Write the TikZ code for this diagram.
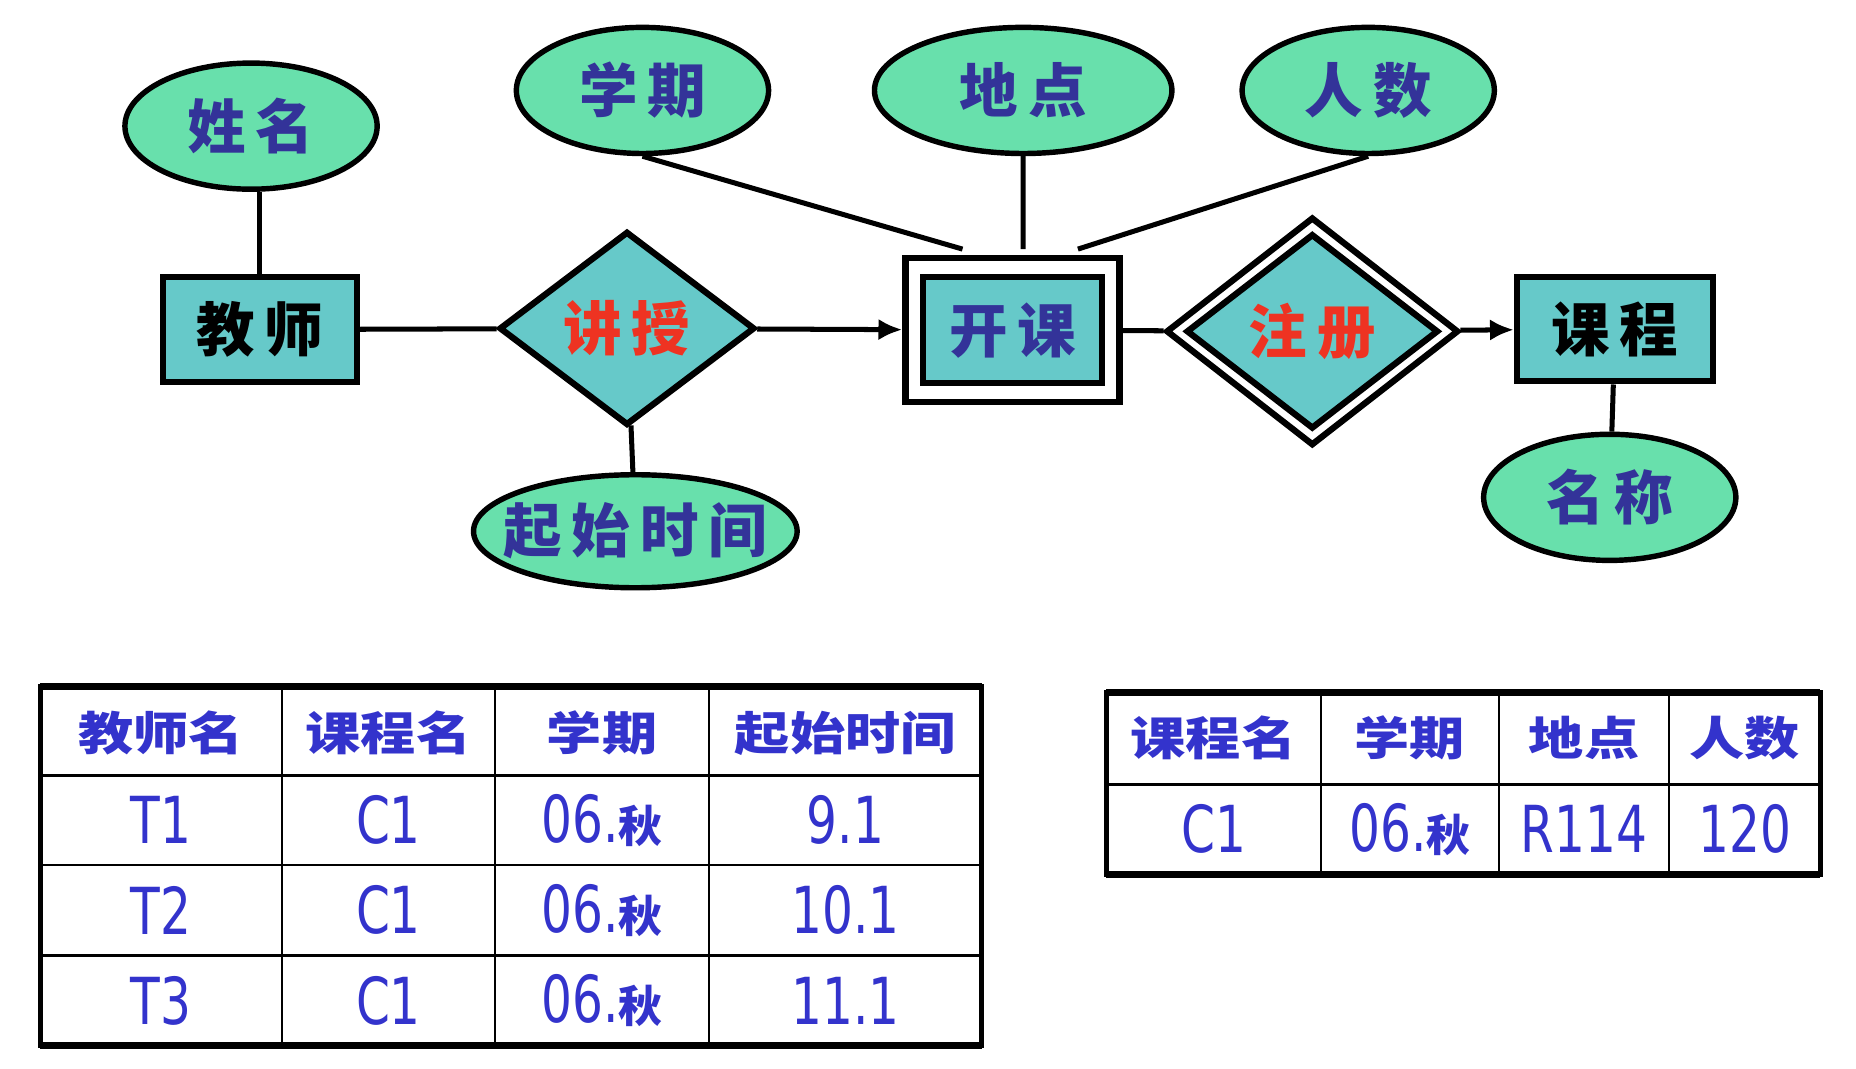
\documentclass[tikz,border=0pt]{standalone}
\usepackage{fontspec}
\newfontfamily\cjk{Noto Sans CJK SC}
\newfontfamily\cjkhead{Noto Sans CJK SC}[FakeStretch=1.2]
\newfontfamily\numfont{DejaVu Sans}[FakeStretch=0.75]
\usetikzlibrary{shapes, positioning, arrows.meta}
\definecolor{attrgreen}{HTML}{68E0AC}
\definecolor{boxteal}{HTML}{66C9C9}
\definecolor{labelblue}{HTML}{333399}
\definecolor{cellblue}{HTML}{3333CC}
\definecolor{relred}{HTML}{EE3322}
\newcommand\qiu{06.{\cjk\bfseries\fontsize{10.5}{12}\selectfont 秋}}
\tikzset{>={Latex[length=2mm,width=1.8mm]},
  attr/.style={ellipse, draw, line width=1.3pt, fill=attrgreen, text=labelblue, inner sep=0pt,
    minimum width=2.12cm, minimum height=1.06cm, font=\cjk\bfseries\fontsize{14}{16}\selectfont},
  entity/.style={rectangle, draw, line width=1.5pt, fill=boxteal, inner sep=0pt,
    minimum width=1.63cm, minimum height=0.88cm, font=\cjk\bfseries\fontsize{14}{16}\selectfont},
  relation/.style={diamond, draw, line width=1.5pt, fill=boxteal, text=relred, inner sep=0pt,
    font=\cjk\bfseries\fontsize{14}{16}\selectfont},
  headcell/.style={text=cellblue, inner sep=0pt, font=\cjkhead\bfseries\fontsize{11}{13}\selectfont},
  cell/.style={text=cellblue, inner sep=0pt, font=\numfont\fontsize{15.5}{18}\selectfont}}

\begin{document}
\begin{tikzpicture}[line width=1.2pt]
    \useasboundingbox (0,0) rectangle (15.6,-8.977);
    % entities and relationships
    \node[entity] (jiaoshi) at (2.185,-2.77) {教\,师};
    \node[relation, minimum width=2.15cm, minimum height=1.63cm] (jiangshou) at (5.27,-2.76) {讲\,授};
    \node[entity, fill=white, minimum width=1.80cm, minimum height=1.21cm] (kaikeout) at (8.51,-2.775) {};
    \node[entity, text=labelblue, minimum width=1.51cm, minimum height=0.89cm] (kaike) at (kaikeout) {开\,课};
    \node[relation, fill=white, minimum width=2.46cm, minimum height=1.92cm] (zhuceout) at (11.03,-2.785) {};
    \node[relation, minimum width=2.12cm, minimum height=1.64cm] (zhuce) at (zhuceout) {注\,册};
    \node[entity, minimum width=1.65cm] (kecheng) at (13.575,-2.765) {课\,程};
    % attributes
    \node[attr] (xingming) at (2.11,-1.06) {姓\,名};
    \node[attr] (xueqi) at (5.40,-0.76) {学\,期};
    \node[attr, minimum width=2.5cm] (didian) at (8.60,-0.76) {地\,点};
    \node[attr] (renshu) at (11.50,-0.76) {人\,数};
    \node[attr, minimum width=2.72cm, minimum height=0.95cm] (qishi) at (5.34,-4.465) {\makebox[0pt]{起\,始\,时\,间}};
    \node[attr] (mingcheng) at (13.53,-4.18) {名\,称};
    \coordinate (xqend) at ([xshift=-0.42cm, yshift=0.05cm]kaikeout.north);
    \coordinate (ddend) at ([xshift=0.09cm, yshift=0.05cm]kaikeout.north);
    \coordinate (rsend) at ([xshift=0.55cm, yshift=0.05cm]kaikeout.north);

    \draw (xingming.south -| jiaoshi.north) -- (jiaoshi.north);
    \draw (jiaoshi) -- (jiangshou);
    \draw[->] (jiangshou) -- (kaikeout);
    \draw (jiangshou) -- (qishi);
    \draw (xueqi.south) -- (xqend);
    \draw (didian.south) -- (ddend);
    \draw (renshu.south) -- (rsend);
    \draw (kaikeout) -- (zhuceout);
    \draw[->] (zhuceout) -- (kecheng);
    \draw (kecheng) -- (mingcheng);

    % table: teacher / course / term / start
    \foreach \y in {-6.52,-7.27,-8.03} \draw[line width=0.7pt] (0.34,\y) -- (8.25,\y);
    \foreach \x in {2.37,4.16,5.96} \draw[line width=0.5pt] (\x,-5.77) -- (\x,-8.79);
    \draw[line width=1.1pt] (0.34,-5.77) rectangle (8.25,-8.79);
    \draw[line width=1.6pt] (0.34,-5.77) -- (8.25,-5.77) (0.34,-8.79) -- (8.25,-8.79);
    \foreach \x/\txt [count=\i] in {1.355/教师名, 3.265/课程名, 5.06/学期, 7.105/起始时间}
        \node[headcell] (tha-\i) at (\x,-6.16) {\txt};
    \foreach \y/\tid/\start [count=\r] in {-6.895/T1/9.1, -7.65/T2/10.1, -8.41/T3/11.1} {
        \node[cell] (ta-\r-1) at (1.355,\y) {\tid};
        \node[cell] (ta-\r-2) at (3.265,\y) {C1};
        \node[cell] (ta-\r-3) at (5.06,\y) {\qiu};
        \node[cell] (ta-\r-4) at (7.105,\y) {\start};
    }

    % table: course / term / place / size
    \draw[line width=0.7pt] (9.30,-6.59) -- (15.30,-6.59);
    \foreach \x in {11.10,12.60,14.03} \draw[line width=0.5pt] (\x,-5.82) -- (\x,-7.35);
    \draw[line width=1.1pt] (9.30,-5.82) rectangle (15.30,-7.35);
    \draw[line width=1.6pt] (9.30,-5.82) -- (15.30,-5.82) (9.30,-7.35) -- (15.30,-7.35);
    \foreach \x/\txt/\val [count=\i] in {10.20/课程名/C1, 11.85/学期/\qiu, 13.315/地点/R114, 14.665/人数/120} {
        \node[headcell] (thb-\i) at (\x,-6.205) {\txt};
        \node[cell] (tb-\i) at (\x,-6.97) {\val};
    }
\end{tikzpicture}
\end{document}
